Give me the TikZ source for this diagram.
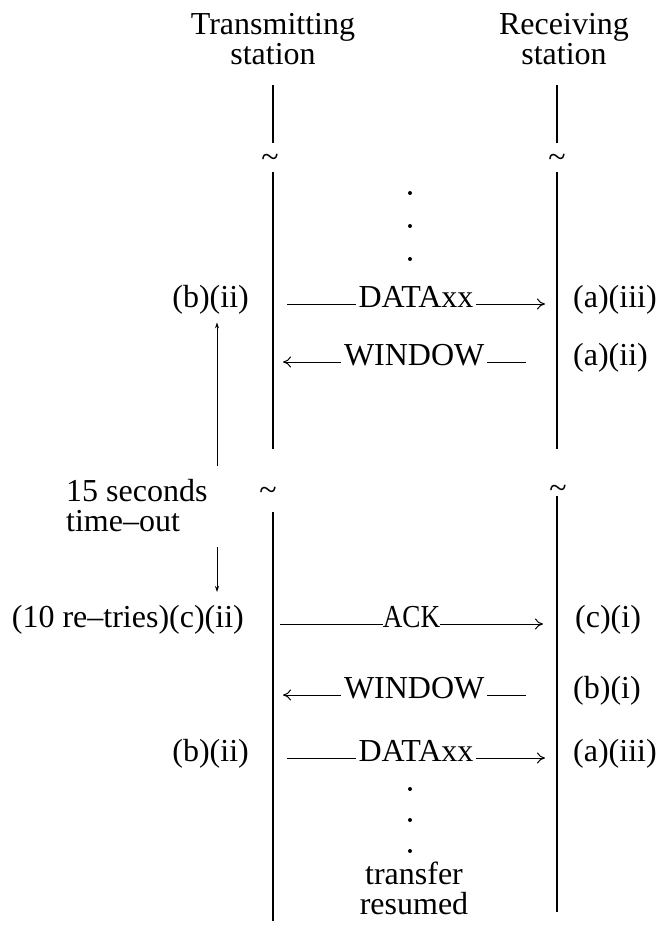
\documentclass[tikz,border=0pt]{standalone}
\usepackage{fontspec}
\setmainfont{Liberation Serif}
\usetikzlibrary{arrows.meta,positioning}
\tikzset{
  lbl/.style  = {font=\fontsize{32}{30}\selectfont, inner sep=0pt, align=center},
  row/.style  = {lbl, text height=0.72em, text depth=0.12em},
  life/.style = {line width=1.6pt},
  msg/.style  = {-{To[length=8pt,width=11pt]}, line width=1pt},
  gap/.style  = {row, fill=white, inner xsep=3pt},
  tick/.style = {-{Stealth[length=6pt,width=4pt]}, line width=0.9pt},
  dot/.style  = {circle, fill, inner sep=0pt, minimum size=4pt},
}

\begin{document}
\begin{tikzpicture}[x=1pt,y=-1pt]
\useasboundingbox (0,0) rectangle (658,937);

% the two stations
\node[lbl] (tx) at (273,39) {Transmitting\\station};
\node[lbl] (rx) at (564,39) {Receiving\\station};

% lifelines, broken twice
\coordinate (ta) at (273,85);  \coordinate (tb) at (273,143);
\coordinate (tc) at (273,172); \coordinate (td) at (273,449);
\coordinate (te) at (273,512); \coordinate (tf) at (273,921);
\coordinate (ra) at (557,85);  \coordinate (rb) at (557,143);
\coordinate (rc) at (557,172); \coordinate (rd) at (557,449);
\coordinate (re) at (557,496); \coordinate (rf) at (557,912);
\draw[life] (ta) -- (tb) (tc) -- (td) (te) -- (tf);
\draw[life] (ra) -- (rb) (rc) -- (rd) (re) -- (rf);
\node[lbl] (tw1) at (270,161) {\textasciitilde};
\node[lbl] (rw1) at (557,161) {\textasciitilde};
\node[lbl] (tw2) at (268,494) {\textasciitilde};
\node[lbl] (rw2) at (558,492) {\textasciitilde};

% elided frames
\foreach \y in {193,226,259} \node[dot] at (410,\y) {};

% normal exchange
\coordinate (d1a) at (287,304); \coordinate (d1b) at (545,304);
\draw[msg] (d1a) -- node[gap, pos=.5] {DATAxx} (d1b);
\node[row, anchor=east] (bii1) at (249,304) {(b)(ii)};
\node[row, anchor=west] (aiii1) at (573,304) {(a)(iii)};

\coordinate (w1a) at (526,362); \coordinate (w1b) at (283,362);
\draw[msg] (w1a) -- node[gap, pos=.46] {WINDOW} (w1b);
\node[row, anchor=west] (aii) at (573,362) {(a)(ii)};

% time-out and retry
\node[lbl, anchor=west, align=left] (tmo) at (66,506) {15 seconds\\time--out};
\coordinate (up0) at (217,466);
\draw[tick] (up0) -- ([yshift=-14pt]bii1.south -| up0);
\coordinate (dn0) at (217,547); \coordinate (dn1) at (217,592);
\draw[tick] (dn0) -- (dn1);

\coordinate (k1a) at (280,624); \coordinate (k1b) at (543,624);
\draw[msg] (k1a) -- node[gap, pos=.5, inner xsep=0pt] {\scalebox{0.85}[1]{ACK}} (k1b);
\node[row, anchor=east] (cii) at (244,624) {(10 re--tries)(c)(ii)};
\node[row, anchor=west] (ci) at (575,624) {(c)(i)};

\coordinate (w2a) at (526,695); \coordinate (w2b) at (283,695);
\draw[msg] (w2a) -- node[gap, pos=.46] {WINDOW} (w2b);
\node[row, anchor=west] (bi) at (573,695) {(b)(i)};

\coordinate (d2a) at (287,758); \coordinate (d2b) at (545,758);
\draw[msg] (d2a) -- node[gap, pos=.5] {DATAxx} (d2b);
\node[row, anchor=east] (bii2) at (249,758) {(b)(ii)};
\node[row, anchor=west] (aiii2) at (573,758) {(a)(iii)};

% resumed transfer
\foreach \y in {789,820,851} \node[dot] at (410,\y) {};
\node[lbl] (res) at (414,888) {transfer\\resumed};
\end{tikzpicture}
\end{document}
